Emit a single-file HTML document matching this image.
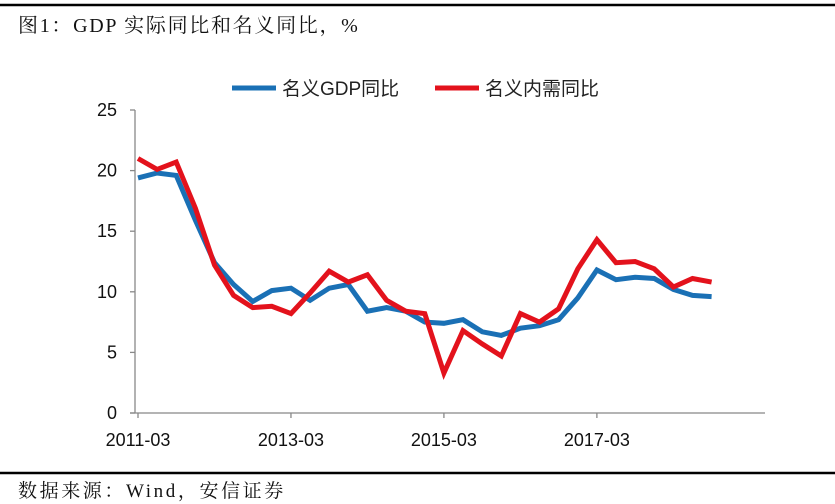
<!DOCTYPE html>
<html><head><meta charset="utf-8"><style>
html,body{margin:0;padding:0;background:#fff;width:835px;height:504px;overflow:hidden}
svg text{font-family:"Liberation Sans","Noto Sans CJK SC",sans-serif}
.serif{font-family:"Liberation Serif","Noto Serif CJK SC",serif}
</style></head><body>
<svg id="chart" width="835" height="504">
<line x1="0" y1="5" x2="835" y2="5" stroke="#000" stroke-width="2.5"/>
<text class="serif" x="18" y="32" font-size="20" letter-spacing="1.7" fill="#111">图1：GDP 实际同比和名义同比，%</text>
<g>
<g><line x1="232" y1="88" x2="276" y2="88" stroke="#1a70b5" stroke-width="5"/><text x="282" y="95" font-size="19" fill="#222">名义GDP同比</text></g>
<g><line x1="435" y1="88" x2="479" y2="88" stroke="#e3121c" stroke-width="5"/><text x="485" y="95" font-size="19" fill="#222">名义内需同比</text></g>
</g>
<g id="axes"></g>
<g id="series"></g>
<line x1="0" y1="473" x2="835" y2="473" stroke="#000" stroke-width="2.5"/>
<text class="serif" x="18" y="497" font-size="19" letter-spacing="2.6" fill="#111">数据来源：Wind，安信证券</text>
</svg>
<script>
const categories=["2011-03","2011-06","2011-09","2011-12","2012-03","2012-06","2012-09","2012-12","2013-03","2013-06","2013-09","2013-12","2014-03","2014-06","2014-09","2014-12","2015-03","2015-06","2015-09","2015-12","2016-03","2016-06","2016-09","2016-12","2017-03","2017-06","2017-09","2017-12","2018-03","2018-06","2018-09"];
const nominalGdp=[19.4,19.8,19.6,15.9,12.4,10.6,9.2,10.1,10.3,9.3,10.3,10.6,8.4,8.7,8.4,7.5,7.4,7.7,6.7,6.4,7.0,7.2,7.7,9.5,11.8,11.0,11.2,11.1,10.2,9.7,9.6];
const domesticDemand=[21.0,20.1,20.7,16.9,12.2,9.7,8.7,8.8,8.2,9.9,11.7,10.8,11.4,9.3,8.4,8.2,3.3,6.8,5.7,4.7,8.2,7.5,8.6,11.9,14.3,12.4,12.5,11.9,10.4,11.1,10.8];
const yTicks=[0,5,10,15,20,25];
const xTickLabels=["2011-03","2013-03","2015-03","2017-03"];
const NS="http://www.w3.org/2000/svg";
const x0=138,step=19.12,yBase=413,yTop=110,yMax=25;
const xs=i=>x0+i*step;
const ys=v=>yBase-(v/yMax)*(yBase-yTop);
const axes=document.getElementById('axes'),series=document.getElementById('series');
function mk(tag,attrs,parent){const e=document.createElementNS(NS,tag);for(const k in attrs)e.setAttribute(k,attrs[k]);parent.appendChild(e);return e;}
let yAxis=mk('line',{x1:135,y1:yTop,x2:135,y2:yBase,stroke:'#888','stroke-width':1.3},axes);


let xAxis=mk('line',{x1:130,y1:yBase,x2:765,y2:yBase,stroke:'#888','stroke-width':1.3},axes);


yTicks.forEach(t=>{
  const y=ys(t);
  const tk=mk('line',{x1:130,y1:y,x2:135,y2:y,stroke:'#888','stroke-width':1.3},axes);
  
  
  const tx=mk('text',{x:117,y:y+6,'font-size':18,'text-anchor':'end',fill:'#111'},axes);
  tx.textContent=t;
  
  
});
xTickLabels.forEach(lbl=>{
  const i=categories.indexOf(lbl);const x=xs(i);
  const tk=mk('line',{x1:x,y1:yBase,x2:x,y2:yBase+5,stroke:'#888','stroke-width':1.3},axes);
  
  
  const tx=mk('text',{x:x,y:446,'font-size':18,'text-anchor':'middle',fill:'#111'},axes);
  tx.textContent=lbl;
  
  
});
function drawLine(vals,color,name){
  const d=vals.map((v,i)=>(i?'L':'M')+xs(i).toFixed(1)+','+ys(v).toFixed(1)).join('');
  const p=mk('path',{d:d,fill:'none',stroke:color,'stroke-width':5,'stroke-linejoin':'miter','stroke-miterlimit':3},series);
  
  
}
drawLine(nominalGdp,'#1a70b5','line-nominal-gdp');
drawLine(domesticDemand,'#e3121c','line-nominal-domestic-demand');
</script>
</body></html>
